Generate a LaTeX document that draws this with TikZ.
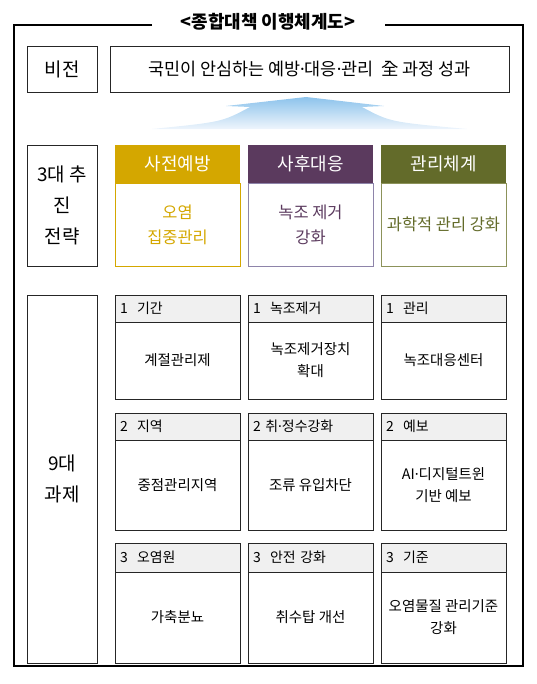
\documentclass[tikz,border=0pt]{standalone}
\usepackage{fontspec}
\setmainfont{Noto Sans CJK KR}
\newfontfamily\dotfont{Noto Sans}
\newcommand{\mdot}{{\dotfont ·}}
\usepackage{tikz}
\usetikzlibrary{positioning}
\definecolor{mustard}{RGB}{212, 167, 0}
\definecolor{plum}{RGB}{91, 58, 94}
\definecolor{plumline}{RGB}{142, 132, 170}
\definecolor{moss}{RGB}{99, 107, 42}
\definecolor{mossline}{RGB}{140, 146, 90}
\definecolor{skyblue}{RGB}{141, 195, 236}
\definecolor{skypale}{RGB}{238, 245, 252}
\definecolor{headgray}{RGB}{240, 240, 240}

\tikzset{
  plainbox/.style={draw=black!85, line width=0.8bp, outer sep=0pt, align=center},
  sidelabel/.style={plainbox, anchor=north west, minimum width=70bp, font=\fontsize{19}{31}\selectfont},
  strathead/.style={anchor=north west, outer sep=0pt, minimum width=125bp, minimum height=38bp,
                    text=white, font=\fontsize{18}{20}\selectfont},
  stratbody/.style={draw, line width=0.8bp, outer sep=0pt, minimum width=125bp, minimum height=83bp,
                    align=center, font=\fontsize{16.5}{25}\selectfont},
  taskhead/.style={plainbox, anchor=north west, fill=headgray, minimum height=27bp, text width=115bp,
                   inner sep=5bp, align=left, font=\fontsize{14}{16}\selectfont},
  taskbody/.style={plainbox, minimum width=125bp, font=\fontsize{14.5}{22}\selectfont},
}

\begin{document}
\begin{tikzpicture}[x=1bp, y=-1bp]
            \useasboundingbox (0, 0) rectangle (537, 684);
            % Title & outer frame
            \node[font=\bfseries\fontsize{18}{20}\selectfont] (title) at (268, 22) {<종합대책 이행체계도>};
            \draw[line width=1.6bp] (152, 25) -- (14, 25) -- (14, 666) -- (523, 666) -- (523, 25) -- (385, 25);
            % Vision
            \node[plainbox, anchor=north west, minimum width=70bp, minimum height=46bp,
                  font=\fontsize{19}{20}\selectfont] (vision) at (27, 46) {비전};
            \node[plainbox, anchor=north west, minimum width=399bp, minimum height=46bp,
                  font=\fontsize{17.5}{20}\selectfont] (visiontext) at (110, 46) {국민이 안심하는 예방\mdot 대응\mdot 관리~~全 과정 성과};
            % Upward arrow
            \shade[top color=skyblue, bottom color=skypale]
                 (306, 97) -- (226, 106) -- (250, 107) .. controls (222, 122) .. (152, 129)
                 -- (467, 129) .. controls (390, 122) .. (362, 107) -- (384, 106) -- cycle;
            % 3 strategies
            \node[sidelabel, minimum height=121bp] (strategy) at (27, 145) {3대 추\\진\\전략};
            \node[strathead, fill=mustard] (prevhead) at (115, 145) {사전예방};
            \node[stratbody, draw=mustard, text=mustard, below=0pt of prevhead] (prevbody) {오염\\집중관리};
            \node[strathead, fill=plum]    (resphead) at (248, 145) {사후대응};
            \node[stratbody, draw=plumline, text=plum, below=0pt of resphead] (respbody) {녹조 제거\\강화};
            \node[strathead, fill=moss]    (mgmthead) at (381, 145) {관리체계};
            \node[stratbody, draw=mossline, text=moss, below=0pt of mgmthead] (mgmtbody) {과학적 관리 강화};
            % 9 tasks
            \node[sidelabel, minimum height=368bp] (tasks) at (27, 295) {9대\\과제};
            % row 1
            \node[taskhead] (periodhead) at (115, 295) {1~~기간};
            \node[taskbody, minimum height=77bp, below=0pt of periodhead] (periodbody) {계절관리제};
            \node[taskhead] (removehead) at (248, 295) {1~~녹조제거};
            \node[taskbody, minimum height=77bp, below=0pt of removehead] (removebody) {녹조제거장치\\확대};
            \node[taskhead] (controlhead) at (381, 295) {1~~관리};
            \node[taskbody, minimum height=77bp, below=0pt of controlhead] (controlbody) {녹조대응센터};
            % row 2
            \node[taskhead] (areahead) at (115, 413) {2~~지역};
            \node[taskbody, minimum height=90bp, below=0pt of areahead] (areabody) {중점관리지역};
            \node[taskhead] (intakehead) at (248, 413) {2 취\mdot 정수강화};
            \node[taskbody, minimum height=90bp, below=0pt of intakehead] (intakebody) {조류 유입차단};
            \node[taskhead] (forecasthead) at (381, 413) {2~~예보};
            \node[taskbody, minimum height=90bp, below=0pt of forecasthead] (forecastbody) {AI\mdot 디지털트윈\\기반 예보};
            % row 3
            \node[taskhead, minimum height=29bp] (sourcehead) at (115, 543) {3~~오염원};
            \node[taskbody, minimum height=91bp, below=0pt of sourcehead] (sourcebody) {가축분뇨};
            \node[taskhead, minimum height=29bp] (safetyhead) at (248, 543) {3~~안전 강화};
            \node[taskbody, minimum height=91bp, below=0pt of safetyhead] (safetybody) {취수탑 개선};
            \node[taskhead, minimum height=29bp] (standardhead) at (381, 543) {3~~기준};
            \node[taskbody, minimum height=91bp, below=0pt of standardhead] (standardbody) {오염물질 관리기준\\강화};
        \end{tikzpicture}
\end{document}
